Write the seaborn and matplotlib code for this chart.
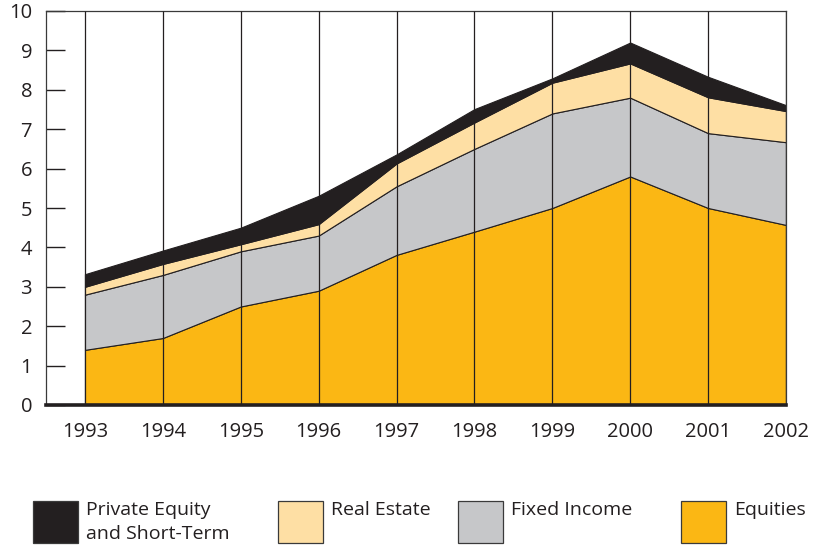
import matplotlib
matplotlib.use("Agg")
import matplotlib.pyplot as plt
import seaborn as sns
import numpy as np
from matplotlib.patches import Rectangle

years = [1993, 1994, 1995, 1996, 1997, 1998, 1999, 2000, 2001, 2002]
equities = [1.40, 1.70, 2.50, 2.90, 3.81, 4.40, 5.00, 5.80, 5.00, 4.57]
fixed_income = [1.40, 1.60, 1.40, 1.40, 1.74, 2.10, 2.40, 2.00, 1.90, 2.10]
real_estate = [0.20, 0.28, 0.18, 0.29, 0.58, 0.67, 0.78, 0.87, 0.91, 0.79]
private_equity = [0.32, 0.34, 0.42, 0.72, 0.23, 0.34, 0.11, 0.53, 0.52, 0.15]

series_labels = ["Private Equity\nand Short-Term", "Real Estate", "Fixed Income", "Equities"]
colors = {"Equities": "#FBB714", "Fixed Income": "#C6C7C9",
          "Real Estate": "#FEDFA4", "Private Equity": "#231F20"}
y_ticks = list(range(0, 11))

sns.set_theme(style="white")
plt.rcParams["font.family"] = ["Open Sans", "DejaVu Sans"]

fig = plt.figure(figsize=(8.15, 5.45), dpi=100)
ax = fig.add_axes([46/815, 1-405/545, (786-46)/815, (405-11)/545])

dark = "#231F20"
ax.stackplot(years, equities, fixed_income, real_estate, private_equity,
             colors=[colors["Equities"], colors["Fixed Income"],
                     colors["Real Estate"], colors["Private Equity"]],
             edgecolor=dark, linewidth=0.8, zorder=2)
ax.vlines(years, 0, 10, colors=dark, linewidth=0.9, zorder=3)

ax.set_xlim(1992.5, 2002)
ax.set_ylim(0, 10)
ax.set_yticks(y_ticks)
ax.set_xticks(years)
ax.set_xticklabels([str(y) for y in years])
ax.tick_params(axis="y", direction="in", length=14, width=1.0, color=dark,
               pad=10, labelsize=14.5, labelcolor=dark, left=True)
ax.tick_params(axis="x", length=0, pad=12, labelsize=14.5, labelcolor=dark)
for side in ["left", "top", "right"]:
    ax.spines[side].set_color("#3a3a3a")
    ax.spines[side].set_linewidth(0.9)
ax.spines["bottom"].set_color(dark)
ax.spines["bottom"].set_linewidth(2.6)
ax.spines["bottom"].set_zorder(4)

# legend
leg_colors = [colors["Private Equity"], colors["Real Estate"],
              colors["Fixed Income"], colors["Equities"]]
box_x = [33, 278, 458, 681]
for bx, lab, col in zip(box_x, series_labels, leg_colors):
    fig.add_artist(Rectangle((bx/815, 1-543/545), 45/815, 42/545,
                             transform=fig.transFigure, facecolor=col,
                             edgecolor="#3a3a3a", linewidth=0.9))
    fig.text((bx+53)/815, 1-501/545, lab, ha="left", va="top",
             fontsize=14, color=dark, linespacing=1.4)

fig.savefig("out.png", dpi=100)
